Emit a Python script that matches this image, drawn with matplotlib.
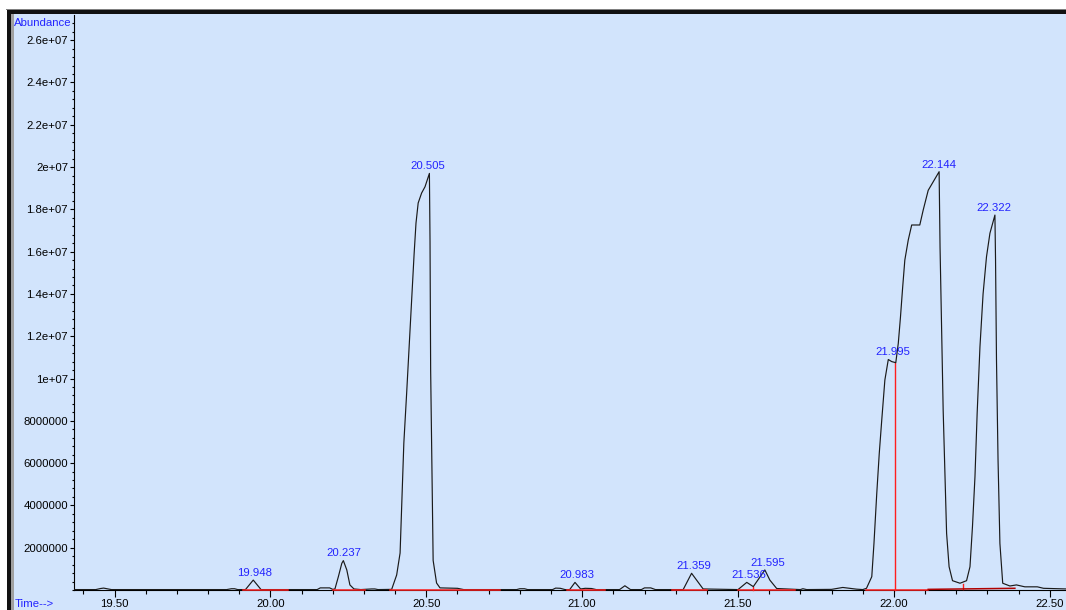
import matplotlib
matplotlib.use("Agg")
import matplotlib.pyplot as plt
from matplotlib.patches import Rectangle
from matplotlib.ticker import FixedLocator, MultipleLocator
import numpy as np

# ---------------- data ----------------
trace_time = [19.371, 19.44, 19.455, 19.465, 19.475, 19.49, 19.86, 19.875, 19.885, 19.895,
              19.92, 19.945, 19.97, 20.15, 20.16, 20.19, 20.20, 20.207, 20.218, 20.229,
              20.234, 20.245, 20.255, 20.268, 20.29, 20.325, 20.335, 20.345, 20.389, 20.405,
              20.416, 20.421, 20.428, 20.437, 20.445, 20.453, 20.461, 20.467, 20.474, 20.485,
              20.496, 20.510, 20.512, 20.514, 20.519, 20.522, 20.533, 20.544, 20.60, 20.62,
              20.79, 20.80, 20.815, 20.825, 20.905, 20.915, 20.93, 20.945, 20.96, 20.977,
              20.995, 21.01, 21.03, 21.045, 21.12, 21.137, 21.155, 21.19, 21.20, 21.22,
              21.235, 21.324, 21.351, 21.367, 21.388, 21.50, 21.528, 21.549, 21.586, 21.602,
              21.624, 21.70, 21.708, 21.72, 21.80, 21.836, 21.88, 21.90, 21.912, 21.929,
              21.936, 21.945, 21.953, 21.961, 21.971, 21.982, 21.993, 22.006, 22.014, 22.021,
              22.028, 22.035, 22.046, 22.057, 22.083, 22.094, 22.110, 22.126, 22.145, 22.148,
              22.153, 22.158, 22.164, 22.169, 22.177, 22.188, 22.212, 22.233, 22.244, 22.252,
              22.260, 22.267, 22.276, 22.286, 22.297, 22.308, 22.324, 22.326, 22.329, 22.334,
              22.340, 22.349, 22.372, 22.393, 22.42, 22.46, 22.48, 22.552]
trace_abund_millions = [0.02, 0.02, 0.07, 0.09, 0.06, 0.02, 0.02, 0.06, 0.06, 0.02,
                        0.02, 0.47, 0.02, 0.02, 0.10, 0.10, 0.03, 0.05, 0.63, 1.26,
                        1.39, 0.95, 0.24, 0.05, 0.02, 0.05, 0.05, 0.02, 0.03, 0.71,
                        1.75, 3.9, 6.95, 9.3, 11.5, 13.7, 15.9, 17.35, 18.3, 18.77,
                        19.07, 19.70, 16.5, 10.4, 4.6, 1.4, 0.33, 0.10, 0.08, 0.02,
                        0.02, 0.06, 0.06, 0.02, 0.02, 0.09, 0.08, 0.02, 0.02, 0.36,
                        0.05, 0.08, 0.07, 0.02, 0.02, 0.20, 0.02, 0.02, 0.10, 0.10,
                        0.02, 0.02, 0.79, 0.47, 0.05, 0.02, 0.36, 0.16, 0.95, 0.47,
                        0.07, 0.02, 0.06, 0.02, 0.03, 0.12, 0.04, 0.02, 0.08, 0.63,
                        2.2, 4.57, 6.46, 8.04, 9.93, 10.9, 10.8, 10.75, 11.66, 12.9,
                        14.3, 15.6, 16.55, 17.26, 17.26, 17.97, 18.9, 19.3, 19.78, 16.2,
                        12.45, 8.5, 5.36, 2.68, 1.1, 0.44, 0.32, 0.44, 1.1, 3.0,
                        5.36, 8.35, 11.5, 14.0, 15.76, 16.87, 17.73, 15.6, 10.9, 6.15,
                        2.2, 0.32, 0.19, 0.24, 0.15, 0.15, 0.08, 0.05]

peak_labels = ["19.948", "20.237", "20.505", "20.983", "21.359", "21.536", "21.595",
               "21.995", "22.144", "22.322"]
peak_times = [19.948, 20.237, 20.505, 20.983, 21.359, 21.536, 21.595, 21.995, 22.144, 22.322]
peak_heights_millions = [0.47, 1.39, 19.70, 0.36, 0.79, 0.36, 0.95, 10.9, 19.78, 17.73]

# integration baselines (red)
base_start = [19.912, 20.202, 20.384, 20.950, 21.287, 21.501, 21.912]
base_end = [20.056, 20.303, 20.736, 21.073, 21.399, 21.683, 22.110]
dark_base_time = [22.110, 22.388]
dark_base_millions = [0.03, 0.08]
drop_times = [21.549, 22.002, 22.222]
drop_low_millions = [0.0, 0.0, 0.03]
drop_high_millions = [0.16, 10.75, 0.30]

xtick_values = [19.5, 20.0, 20.5, 21.0, 21.5, 22.0, 22.5]
xtick_labels = ["19.50", "20.00", "20.50", "21.00", "21.50", "22.00", "22.50"]
ytick_values = [2e6, 4e6, 6e6, 8e6, 1e7, 1.2e7, 1.4e7, 1.6e7, 1.8e7, 2e7, 2.2e7, 2.4e7, 2.6e7]
ytick_labels = ["2000000", "4000000", "6000000", "8000000", "1e+07", "1.2e+07", "1.4e+07",
                "1.6e+07", "1.8e+07", "2e+07", "2.2e+07", "2.4e+07", "2.6e+07"]

# ---------------- styling ----------------
W, H = 1066, 610
BG = "#D2E4FC"
BLUE = "#2323FF"
RED = "#FF1E1E"
FONT = "Liberation Sans"
FS = 8.2

plt.rcParams["font.family"] = [FONT, "DejaVu Sans"]

fig = plt.figure(figsize=(W / 100, H / 100), dpi=100, facecolor="white")

def px_rect(x0, y0, x1, y1, color, z=-10):
    # pixel coords from top-left
    fig.patches.append(Rectangle((x0 / W, 1 - y1 / H), (x1 - x0) / W, (y1 - y0) / H,
                                 transform=fig.transFigure, color=color, zorder=z,
                                 linewidth=0))

px_rect(14, 14, W, H, BG)
px_rect(6, 9, W, 10, "#808080")
px_rect(7, 10, W, 13.5, "#111111")
px_rect(7, 10, 10.5, H, "#111111")
px_rect(10.5, 13.5, 13.5, H, "#A0A0A0")

ax_l, ax_r, ax_t, ax_b = 74, 1066, 15, 590
ax = fig.add_axes([ax_l / W, 1 - ax_b / H, (ax_r - ax_l) / W, (ax_b - ax_t) / H])
ax.set_zorder(1)
ax.set_facecolor(BG)

t = np.array(trace_time)
a = np.array(trace_abund_millions) * 1e6
ax.plot(t, a, color="#1a1a1a", lw=0.85, zorder=2.6)

for s, e in zip(base_start, base_end):
    ax.plot([s, e], [0, 0], color=RED, lw=1.1, zorder=2.7, clip_on=False)
ax.plot(dark_base_time, np.array(dark_base_millions) * 1e6, color="#B00000", lw=1.1,
        zorder=2.7, clip_on=False)
for dt, lo, hi in zip(drop_times, drop_low_millions, drop_high_millions):
    ax.plot([dt, dt], [lo * 1e6, hi * 1e6], color=RED, lw=1.0, zorder=2.55, clip_on=False)

for lab, pt, ph in zip(peak_labels, peak_times, peak_heights_millions):
    ax.annotate(lab, (pt, ph * 1e6), xytext=(0, 3), textcoords="offset points",
                ha="center", va="baseline", color=BLUE, fontsize=FS, family=FONT)

ax.set_xlim(19.370, 22.552)
ax.set_ylim(0, 2.719e7)

for side in ("top", "right"):
    ax.spines[side].set_visible(False)
for side in ("left", "bottom"):
    ax.spines[side].set_color("black")
    ax.spines[side].set_linewidth(0.8)

ax.xaxis.set_major_locator(FixedLocator(xtick_values))
ax.set_xticklabels(xtick_labels)
ax.xaxis.set_minor_locator(MultipleLocator(0.1))
ax.yaxis.set_major_locator(FixedLocator(ytick_values))
ax.set_yticklabels(ytick_labels)
ax.yaxis.set_minor_locator(MultipleLocator(4e5))

ax.tick_params(axis="x", which="major", direction="out", length=5, width=0.8, pad=1.5,
               labelsize=FS, colors="black")
ax.tick_params(axis="x", which="minor", direction="out", length=3, width=0.8)
ax.tick_params(axis="y", which="major", direction="out", length=3, width=0.8, pad=1.2,
               labelsize=FS, colors="black")
ax.tick_params(axis="y", which="minor", direction="out", length=1.6, width=0.8)

fig.text(14 / W, 1 - 26 / H, "Abundance", color=BLUE, fontsize=FS, family=FONT,
         ha="left", va="baseline", zorder=5)
fig.text(15 / W, 1 - 607 / H, "Time-->", color=BLUE, fontsize=FS, family=FONT,
         ha="left", va="baseline", zorder=5)

fig.savefig("out.png", dpi=100, facecolor=fig.get_facecolor())
